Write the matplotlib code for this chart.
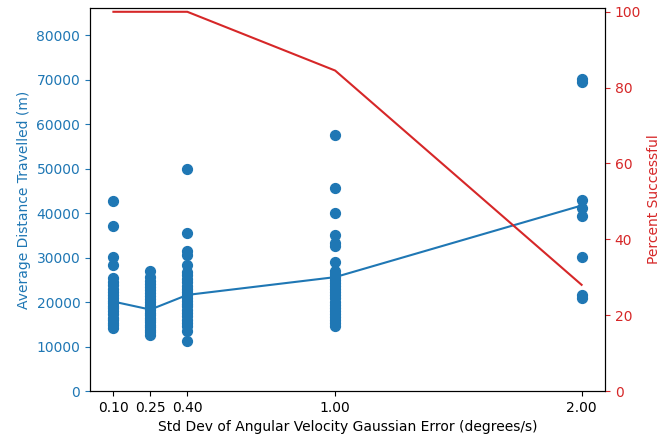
import matplotlib
matplotlib.use("Agg")
import matplotlib.pyplot as plt

# Noise levels tested (std dev of angular velocity error, degrees/s)
#
noise_levels = [0.10, 0.25, 0.40, 1.00, 2.00]
tick_labels = ["0.10", "0.25", "0.40", "1.00", "2.00"]

# Distance travelled by each run, per noise level (m)
#
dist_010 = [42800, 37100, 30200, 28300, 25300, 24500, 23800, 23000, 22200,
            21500, 21000, 20300, 19800, 19200, 18600, 18000, 17200, 16500,
            16000, 15300, 14800, 14200]
dist_025 = [26900, 25600, 24800, 24000, 23300, 22600, 22000, 21300, 20700,
            20000, 19400, 18800, 18200, 17600, 17000, 16500, 16000, 15400,
            14800, 14300, 13700, 13200, 12600]
dist_040 = [50000, 35600, 31400, 30600, 28300, 26700, 26000, 25200, 24400,
            23600, 23000, 22300, 21600, 21000, 20300, 19600, 19000, 18300,
            17600, 16800, 16000, 15200, 14500, 13400, 11200]
dist_100 = [57600, 45600, 40000, 35100, 33200, 32500, 28900, 26900, 26200,
            25600, 25000, 24300, 23600, 22900, 22200, 21500, 20800, 20100,
            19400, 18700, 18000, 17300, 16600, 15900, 15200, 14600]
dist_200 = [70200, 69400, 42900, 41100, 39400, 30100, 21500, 20900]

# Average distance and success rate per noise level
#
mean_distance = [20100, 18300, 21600, 25600, 41700]
percent_success = [100, 100, 100, 84.5, 28]

blue = "tab:blue"
red = "tab:red"

fig, ax1 = plt.subplots(figsize=(6.6, 4.36), dpi=100)
fig.subplots_adjust(left=90 / 660, right=605 / 660, top=1 - 8 / 436, bottom=1 - 391 / 436)

# Scatter every run, then the average on top
#
all_runs = [dist_010, dist_025, dist_040, dist_100, dist_200]
for x, runs in zip(noise_levels, all_runs):
    ax1.scatter([x] * len(runs), runs, color=blue, s=50, zorder=2)
ax1.plot(noise_levels, mean_distance, color=blue, zorder=3)

ax1.set_xlabel("Std Dev of Angular Velocity Gaussian Error (degrees/s)")
ax1.set_ylabel("Average Distance Travelled (m)", color=blue)
ax1.tick_params(axis="y", colors=blue)
ax1.set_xticks(noise_levels)
ax1.set_xticklabels(tick_labels)
ax1.set_ylim(0, 86100)

# Success rate on a second axis
#
ax2 = ax1.twinx()
ax2.plot(noise_levels, percent_success, color=red)
ax2.set_ylabel("Percent Successful", color=red)
ax2.tick_params(axis="y", colors=red)
ax2.set_ylim(0, 101)

plt.savefig("out.png", dpi=100, facecolor="white")
plt.close(fig)
